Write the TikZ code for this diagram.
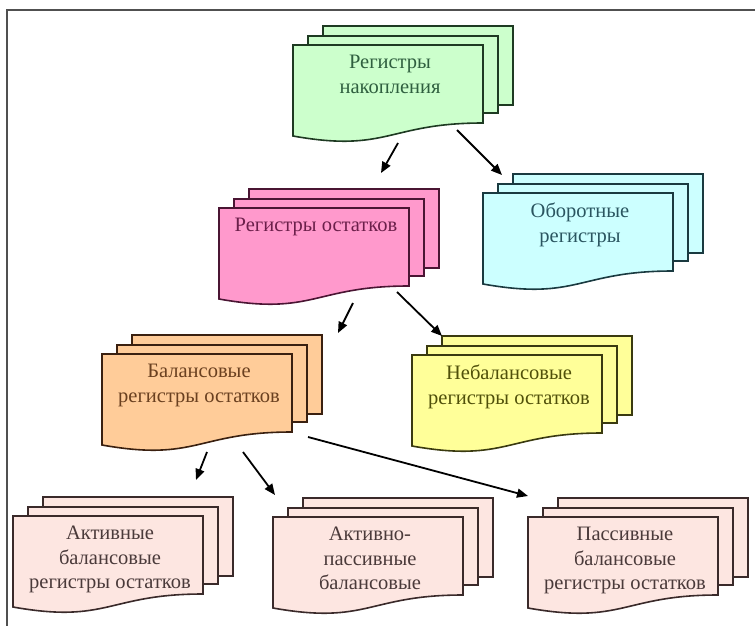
\documentclass[tikz,border=0pt]{standalone}
\usepackage{fontspec}
\setmainfont{Liberation Serif}
\usetikzlibrary{arrows.meta,calc}
\definecolor{gfill}{HTML}{CCFFCC}\definecolor{gline}{HTML}{1E3A22}\definecolor{gtext}{HTML}{2F5F3F}
\definecolor{pfill}{HTML}{FF99CC}\definecolor{pline}{HTML}{4A1533}\definecolor{ptext}{HTML}{6B1F4A}
\definecolor{cfill}{HTML}{CCFFFF}\definecolor{cline}{HTML}{1A3A40}\definecolor{ctext}{HTML}{2A5560}
\definecolor{ofill}{HTML}{FFCC99}\definecolor{oline}{HTML}{3A2010}\definecolor{otext}{HTML}{6A4020}
\definecolor{yfill}{HTML}{FFFF99}\definecolor{yline}{HTML}{3A3A10}\definecolor{ytext}{HTML}{50500A}
\definecolor{rfill}{HTML}{FDE6E1}\definecolor{rline}{HTML}{3A2A2A}\definecolor{rtext}{HTML}{4A3A3A}
\definecolor{framecol}{HTML}{505050}
\tikzset{
  sheetline/.style={line width=1.6pt, line join=miter},
  doctext/.style={align=center, inner sep=0pt, font=\fontsize{20.5}{24.5}\selectfont},
  arr/.style={line width=1.8pt, draw=black, -{Triangle[length=11pt,width=9pt]}},
  framestyle/.style={line width=2pt, draw=framecol}
}
\newcommand\mdocsheet[7]{%
  \path[sheetline,fill=#4,draw=#5] ({#2+30},{#3-19}) rectangle ++(190,79);
  \path[sheetline,fill=#4,draw=#5] ({#2+15},{#3-9}) rectangle ++(190,77);
  \path[sheetline,fill=#4,draw=#5] (#2,#3) -- ({#2+190},#3) -- ({#2+190},{#3+78})
     .. controls ({#2+95},{#3+78}) and ({#2+95},{#3+108}) .. (#2,{#3+91}) -- cycle;
  \node[name=#1, anchor=north west, minimum width=190pt, minimum height=91pt, inner sep=0pt, outer sep=0pt] at (#2,#3) {};
  \node[name=#1t, anchor=north, doctext, text=#6] at ({#2+97},{#3+10}) {#7};
}
\begin{document}
\begin{tikzpicture}[x=1pt,y=-1pt]
\useasboundingbox (0,0) rectangle (755,626);
\fill[white] (0,0) rectangle (755,626);
\draw[framestyle] (7,626) -- (7,10) -- (755,10);
\mdocsheet{b1}{293}{45}{gfill}{gline}{gtext}{Регистры\\накопления}
\mdocsheet{b2}{219}{208}{pfill}{pline}{ptext}{Регистры остатков}
\mdocsheet{b3}{483}{193}{cfill}{cline}{ctext}{Оборотные\\регистры}
\mdocsheet{b4}{102}{354}{ofill}{oline}{otext}{Балансовые\\регистры остатков}
\mdocsheet{b5}{412}{355}{yfill}{yline}{ytext}{Небалансовые\\регистры остатков}
\mdocsheet{b6}{13}{516}{rfill}{rline}{rtext}{Активные\\балансовые\\регистры остатков}
\mdocsheet{b7}{273}{517}{rfill}{rline}{rtext}{Активно-\\пассивные\\балансовые}
\mdocsheet{b8}{528}{517}{rfill}{rline}{rtext}{Пассивные\\балансовые\\регистры остатков}
\draw[arr] ($(b1.north west)+(105,98)$) -- ($(b2.north west)+(162,-35)$);
\draw[arr] ($(b1.north west)+(164,85)$) -- ($(b3.north west)+(19,-18)$);
\draw[arr] ($(b2.north west)+(134,95)$) -- ($(b4.north west)+(236,-21)$);
\draw[arr] ($(b2.north west)+(178,84)$) -- ($(b5.north west)+(30,-19)$);
\draw[arr] ($(b4.north west)+(105,98)$) -- ($(b6.north west)+(183,-36)$);
\draw[arr] ($(b4.north west)+(141,98)$) -- ($(b7.north west)+(2,-22)$);
\draw[arr] ($(b4.north west)+(206,83)$) -- ($(b8.north west)+(0,-21)$);
\end{tikzpicture}
\end{document}
